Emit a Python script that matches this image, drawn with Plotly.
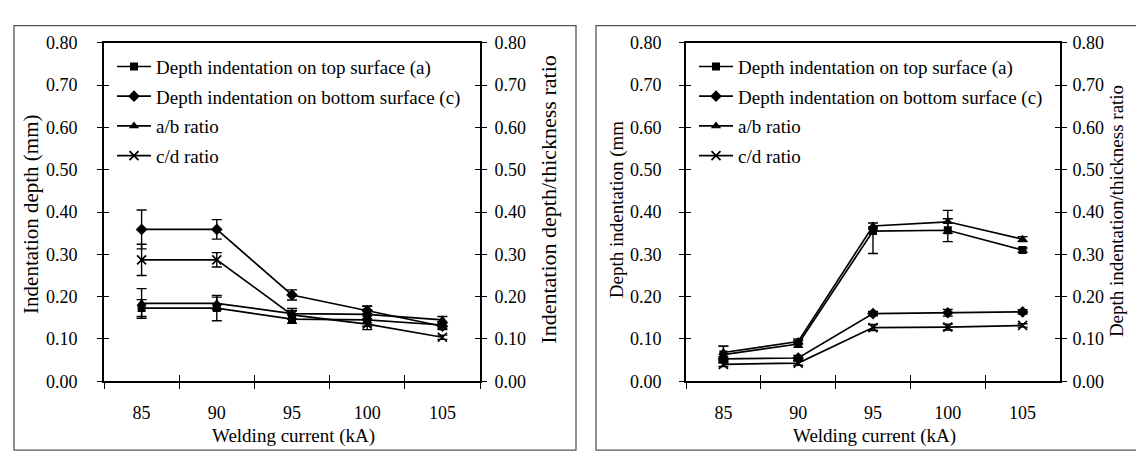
import plotly.graph_objects as go

currents = ["85", "90", "95", "100", "105"]
names = ["Depth indentation on top surface (a)",
         "Depth indentation on bottom surface (c)",
         "a/b ratio", "c/d ratio"]
symbols = ["square", "diamond", "triangle-up", "x-thin"]

# Left panel values
L_top_a = [0.173, 0.173, 0.147, 0.145, 0.133]
L_bot_c = [0.359, 0.359, 0.204, 0.167, 0.130]
L_ab = [0.184, 0.184, 0.160, 0.158, 0.145]
L_cd = [0.287, 0.287, 0.157, 0.135, 0.104]
L_top_a_err = [0.020, 0.030, 0.010, 0.015, 0.008]
L_bot_c_err = [0.046, 0.023, 0.012, 0.010, 0.008]
L_ab_err = [0.035, 0.015, 0.012, 0.020, 0.008]
L_cd_err = [0.037, 0.017, 0.010, 0.013, 0.005]

# Right panel values
R_top_a = [0.063, 0.088, 0.355, 0.357, 0.310]
R_bot_c = [0.053, 0.055, 0.160, 0.162, 0.164]
R_ab = [0.068, 0.094, 0.367, 0.377, 0.336]
R_cd = [0.040, 0.043, 0.127, 0.128, 0.132]
R_top_a_err_plus = [0.020, 0.008, 0.010, 0.027, 0.005]
R_top_a_err_minus = [0.020, 0.008, 0.053, 0.027, 0.005]
R_bot_c_err = [0.005, 0.006, 0.005, 0.008, 0.005]
R_ab_err = [0.015, 0.006, 0.007, 0.027, 0.006]
R_cd_err = [0.005, 0.005, 0.007, 0.007, 0.004]

W, H = 1144, 454
FONT = "'Liberation Serif', 'Times New Roman', Tinos, 'DejaVu Serif', serif"


def px(x):
    return x / W


def py(y):
    return 1 - y / H


fig = go.Figure()

panels = [
    dict(x="x", y="y", xo="x3", yl="y3", yr="y4", yr_lab="y2", legend="legend",
         series=[(L_top_a, L_top_a_err, L_top_a_err), (L_bot_c, L_bot_c_err, L_bot_c_err),
                 (L_ab, L_ab_err, L_ab_err), (L_cd, L_cd_err, L_cd_err)]),
    dict(x="x2", y="y5", xo="x4", yl="y7", yr="y8", yr_lab="y6", legend="legend2",
         series=[(R_top_a, R_top_a_err_plus, R_top_a_err_minus), (R_bot_c, R_bot_c_err, R_bot_c_err),
                 (R_ab, R_ab_err, R_ab_err), (R_cd, R_cd_err, R_cd_err)]),
]

for p in panels:
    for i, (vals, ep, em) in enumerate(p["series"]):
        sym = symbols[i]
        msize = {"square": 8, "diamond": 9, "triangle-up": 9, "x-thin": 9}[sym]
        fig.add_trace(go.Scatter(
            x=currents, y=vals, name=names[i], mode="lines+markers",
            xaxis=p["x"], yaxis=p["y"], legend=p["legend"], legendgroup=p["legend"] + str(i),
            line=dict(color="black", width=1.7),
            marker=dict(symbol=sym, size=msize, color="black",
                        line=dict(color="black", width=1.7 if sym == "x-thin" else 0)),
            error_y=dict(type="data", symmetric=False, array=ep, arrayminus=em,
                         color="black", thickness=1.4, width=5),
        ))
    # dummy traces so overlay tick axes exist
    for xa, ya in [(p["xo"], p["y"]), (p["x"], p["yl"]), (p["x"], p["yr"]), (p["x"], p["yr_lab"])]:
        fig.add_trace(go.Scatter(x=[], y=[], xaxis=xa, yaxis=ya, showlegend=False, hoverinfo="skip"))

tickfont = dict(family=FONT, size=18, color="black")
ydom = [py(380), py(26)]
yrange = [0, 0.8]
ycommon = dict(range=yrange, dtick=0.1, tick0=0, tickformat=".2f", showgrid=False, zeroline=False,
               fixedrange=True)


def ymain(side, anchor, overlay=None, labels=True, inside=False, line=True, standoff=5):
    d = dict(ycommon)
    d.update(side=side, anchor=anchor, domain=ydom,
             ticks="inside" if inside else "outside", ticklen=5, tickwidth=1.4, tickcolor="black",
             showticklabels=labels, tickfont=tickfont, ticklabelstandoff=standoff,
             showline=line, linecolor="black", linewidth=1.7)
    if overlay:
        d["overlaying"] = overlay
    return d


def xmain(dom, anchor):
    return dict(type="category", categoryarray=currents, categoryorder="array", domain=dom,
                anchor=anchor, range=[-0.5, 4.5], ticks="outside", tickson="boundaries", ticklen=6,
                tickwidth=1.4, tickcolor="black", showline=True, mirror=True, linecolor="black",
                linewidth=1.7, showgrid=False, tickfont=tickfont, ticklabelstandoff=14, fixedrange=True)


def xover(overlay, anchor):
    return dict(overlaying=overlay, anchor=anchor, range=[-0.5, 4.5],
                tickvals=[0.5, 1.5, 2.5, 3.5], ticks="inside", ticklen=6, tickwidth=1.4,
                tickcolor="black", showticklabels=False, showline=False, showgrid=False,
                zeroline=False, fixedrange=True)


xL = [px(96), px(472)]
xR = [px(678), px(1052)]


def ann(text, x, y, size, angle=0):
    return dict(text=text, x=px(x), y=py(y), xref="paper", yref="paper", xanchor="center",
                yanchor="middle", textangle=angle, showarrow=False,
                font=dict(family=FONT, size=size, color="black"))


legend_common = dict(xanchor="left", yanchor="top", bgcolor="rgba(0,0,0,0)",
                     font=dict(family=FONT, size=19, color="black"), tracegroupgap=2,
                     itemwidth=34, borderwidth=0)

fig.update_layout(
    width=W, height=H, margin=dict(l=0, r=0, t=0, b=0),
    paper_bgcolor="white", plot_bgcolor="white",
    font=dict(family=FONT, color="black"),
    xaxis=xmain(xL, "y"),
    xaxis3=xover("x", "y"),
    yaxis=ymain("left", "x", standoff=16),
    yaxis2=ymain("right", "x", overlay="y", standoff=4),
    yaxis3=ymain("left", "x", overlay="y", labels=False, inside=True, line=False),
    yaxis4=ymain("right", "x", overlay="y", labels=False, inside=True, line=False),
    xaxis2=xmain(xR, "y5"),
    xaxis4=xover("x2", "y5"),
    yaxis5=ymain("left", "x2", standoff=14),
    yaxis6=ymain("right", "x2", overlay="y5", standoff=2),
    yaxis7=ymain("left", "x2", overlay="y5", labels=False, inside=True, line=False),
    yaxis8=ymain("right", "x2", overlay="y5", labels=False, inside=True, line=False),
    showlegend=True,
    legend=dict(x=px(104), y=py(31), **legend_common),
    legend2=dict(x=px(686), y=py(31), **legend_common),
    shapes=[
        dict(type="rect", xref="paper", yref="paper", x0=px(6), x1=px(568), y0=py(452), y1=py(8),
             line=dict(color="#555", width=1.3)),
        dict(type="rect", xref="paper", yref="paper", x0=px(588), x1=px(1142), y0=py(452), y1=py(8),
             line=dict(color="#555", width=1.3)),
    ],
    annotations=[
        ann("Indentation depth (mm)", 23, 206, 21, -90),
        ann("Indentation depth/thickness ratio", 541, 190, 22, -90),
        ann("Welding current (kA)", 285, 437, 19),
        ann("Depth indentation (mm", 609, 200, 19, -90),
        ann("Depth indentation/thickness ratio", 1108, 202, 19, -90),
        ann("Welding current (kA)", 866, 437, 19),
    ],
)

fig.write_html("out.html")
